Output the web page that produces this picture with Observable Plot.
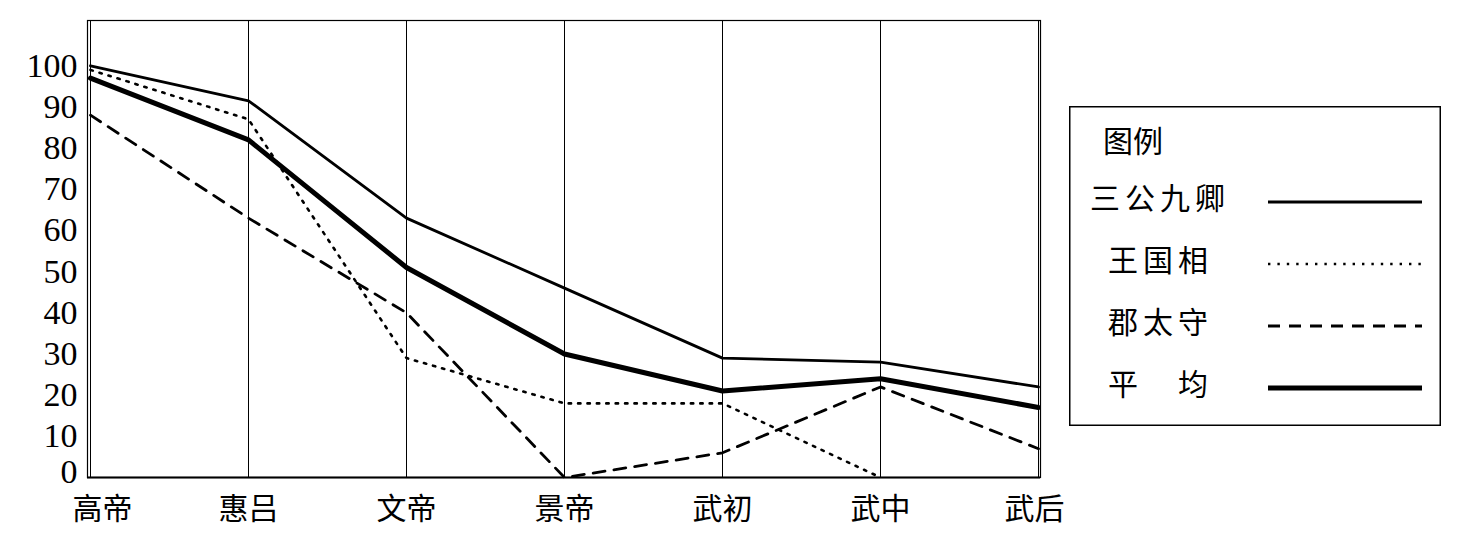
<!DOCTYPE html>
<html><head><meta charset="utf-8">
<script src="https://cdn.jsdelivr.net/npm/d3@7"></script>
<script src="https://cdn.jsdelivr.net/npm/@observablehq/plot@0.6"></script>
<style>
body{margin:0;background:#fff;}
#wrap{position:relative;width:1461px;height:542px;}
#legend{position:absolute;left:1069px;top:106px;}
</style></head><body><div id="wrap"></div>
<script>
const periods = ["高帝","惠吕","文帝","景帝","武初","武中","武后"];
const sangong = [100, 91.5, 63, 46, 29, 28, 22];
const wangguo = [99, 87, 29, 18, 18, 0];
const juntaishou = [88, 63, 40, 0, 6, 22, 7];
const pingjun = [97, 82, 51, 30, 21, 24, 17];
const yTicks = [0,10,20,30,40,50,60,70,80,90,100];
const seriesNames = ["三公九卿","王国相","郡太守","平　均"];
const legendTitle = "图例";

const FONT = '"Liberation Serif","Noto Sans CJK SC",serif';
const zip = vals => vals.map((v,i)=>({p:periods[i], v}));
const styles = [
  {strokeWidth:2.8},
  {strokeWidth:2.6, strokeDasharray:"2.4,7"},
  {strokeWidth:2.8, strokeDasharray:"12,9"},
  {strokeWidth:5}
];
const seriesVals = [sangong, wangguo, juntaishou, pingjun];

const chart = Plot.plot({
  width:1461, height:542,
  marginLeft:87, marginRight:421, marginTop:20, marginBottom:65,
  style:{fontFamily:FONT, background:"#fff", color:"#000", overflow:"visible"},
  x:{type:"point", domain:periods, padding:0, label:null},
  y:{domain:[0,111], label:null},
  marks:[
    Plot.ruleX(periods, {stroke:"#000", strokeWidth:1}),
    Plot.frame({stroke:"#000", strokeWidth:1.2}),
    Plot.ruleY([0], {stroke:"#000", strokeWidth:2}),
    Plot.ruleY(yTicks, {x1:periods[0], x2:periods[0], insetRight:-9, stroke:"#000", strokeWidth:1}),
    Plot.axisY({ticks:yTicks.slice(1), tickSize:0, tickPadding:10, fontSize:34, label:null}),
    Plot.axisY({ticks:[yTicks[0]], tickSize:0, tickPadding:10, dy:-5, fontSize:34, label:null}),
    Plot.axisX({ticks:[periods[0]], tickSize:0, tickPadding:20, dx:12, fontSize:30, label:null}),
    Plot.axisX({ticks:periods.slice(1,-1), tickSize:0, tickPadding:20, fontSize:30, label:null}),
    Plot.axisX({ticks:[periods[periods.length-1]], tickSize:0, tickPadding:20, dx:-4, fontSize:30, label:null}),
    ...seriesVals.map((vals,i)=>Plot.line(zip(vals), {x:"p", y:"v", stroke:"#000", strokeLinejoin:"miter", ...styles[i]}))
  ]
});
const wrap = document.getElementById("wrap");
wrap.appendChild(chart);

// legend
const lg = d3.select(wrap).append("svg").attr("id","legend")
  .attr("width",372).attr("height",320)
  .style("font-family",FONT);
lg.append("rect").attr("x",0.75).attr("y",0.75).attr("width",370.5).attr("height",318.5)
  .attr("fill","#fff").attr("stroke","#000").attr("stroke-width",1.5);
lg.append("text").attr("x",34).attr("y",39).attr("dominant-baseline","middle")
  .attr("font-size",30).text(legendTitle);
const rowY = [96,158,220,282];
const labelX = [21,39,39,39];
seriesNames.forEach((name,i)=>{
  lg.append("text").attr("x",labelX[i]).attr("y",rowY[i]).attr("dominant-baseline","middle")
    .attr("font-size",30).attr("letter-spacing",5).text(name);
  const l = lg.append("line").attr("x1",199).attr("x2",353).attr("y1",rowY[i]).attr("y2",rowY[i])
    .attr("stroke","#000").attr("stroke-width",styles[i].strokeWidth);
  if (styles[i].strokeDasharray) l.attr("stroke-dasharray",styles[i].strokeDasharray);
});
</script></body></html>
